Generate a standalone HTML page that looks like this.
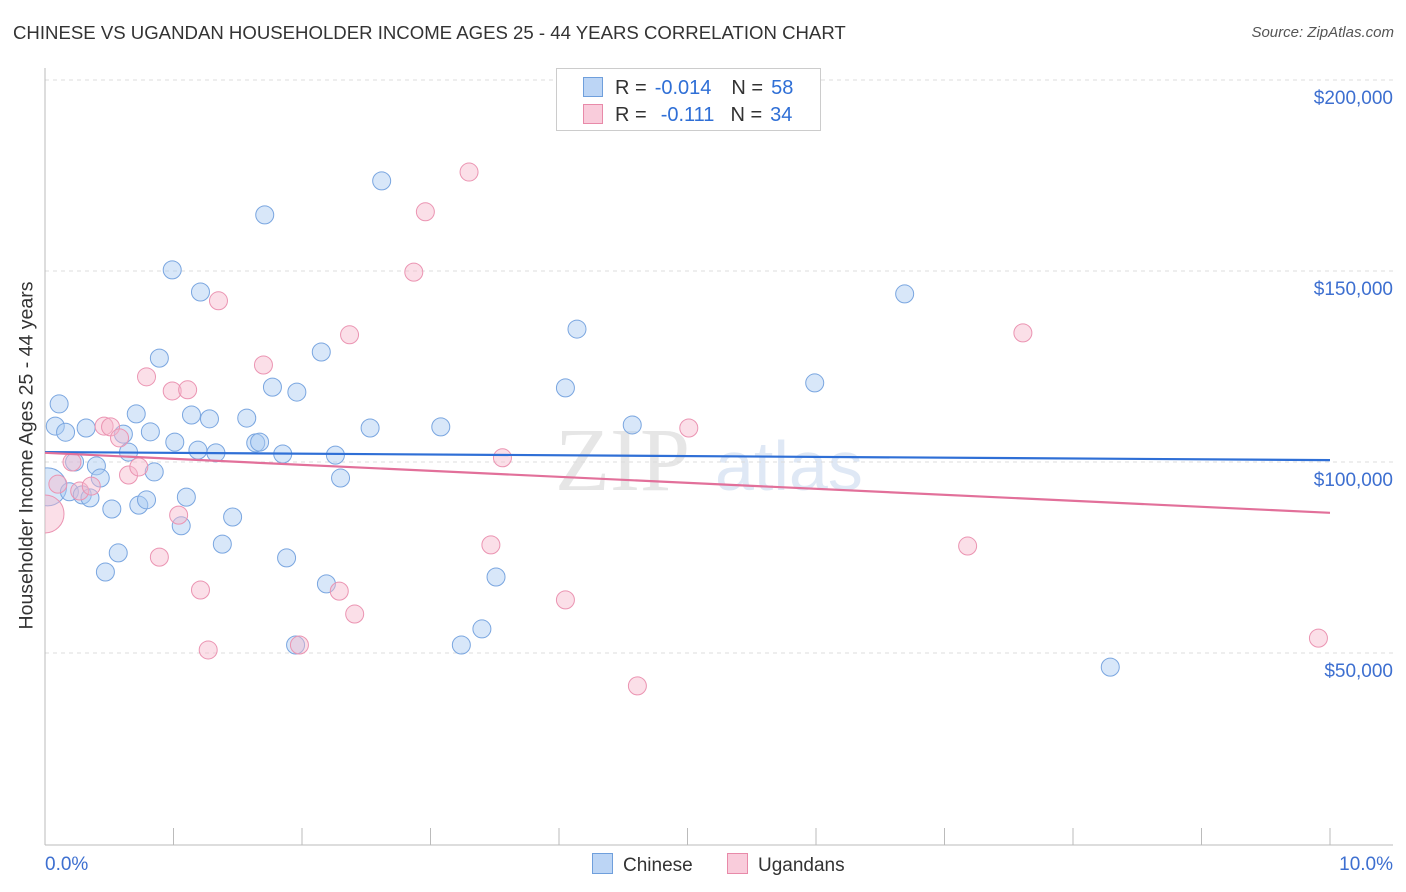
<!DOCTYPE html>
<html><head><meta charset="utf-8"><style>
body{margin:0;background:#fff;font-family:"Liberation Sans",sans-serif;}
#wrap{position:relative;width:1406px;height:892px;overflow:hidden;}
.t{position:absolute;white-space:nowrap;}
</style></head><body>
<div id="wrap">
<div class="t" style="left:13px;top:22px;font-size:18.6px;color:#333;">CHINESE VS UGANDAN HOUSEHOLDER INCOME AGES 25 - 44 YEARS CORRELATION CHART</div>
<div class="t" style="right:12px;top:24px;font-size:15px;color:#555;font-style:italic;">Source: ZipAtlas.com</div>
<div class="t" style="font-size:19.5px;color:#333;transform:rotate(-90deg);text-align:center;top:444px;left:-163px;width:380px;">Householder Income Ages 25 - 44 years</div>
<svg id="svg" width="1406" height="892" style="position:absolute;left:0;top:0"><defs><clipPath id="clip"><rect x="45" y="60" width="1360" height="785"/></clipPath></defs></svg>
</div>
<script>
const yTicks=[50000,100000,150000,200000];
const yTickLabels=["$50,000","$100,000","$150,000","$200,000"];
const xTickLabels=["0.0%","10.0%"];
const chineseX=[.11,.08,.16,.32,.02,.19,.23,.40,.43,.29,.35,.52,.47,.57,.61,.65,.71,.73,.79,.82,.85,.89,.99,1.01,1.06,1.10,1.14,1.19,1.21,1.28,1.33,1.38,1.46,1.57,1.64,1.67,1.71,1.77,1.85,1.88,1.96,1.95,2.15,2.19,2.26,2.30,2.53,2.62,3.08,3.24,3.40,3.51,4.05,4.14,4.57,5.99,6.69,8.29];
const chineseY=[115.2,109.4,107.8,108.9,93.5,92.2,100.0,99.0,95.8,91.4,90.6,87.7,71.2,76.2,107.3,102.6,112.6,88.7,90.1,107.9,97.4,127.2,150.3,105.2,83.3,90.8,112.3,103.1,144.5,111.3,102.4,78.5,85.6,111.5,105.0,105.2,164.7,119.6,102.1,74.9,118.3,52.1,128.8,68.1,101.8,95.8,108.9,173.6,109.2,52.1,56.3,69.9,119.4,134.8,109.7,120.7,144.0,46.3];
const ugandanX=[0.0,.10,.21,.27,.36,.46,.51,.58,.65,.73,.79,.89,.99,1.04,1.11,1.21,1.27,1.35,1.70,1.98,2.29,2.37,2.41,2.87,2.96,3.30,3.47,3.56,4.05,4.61,5.01,7.18,7.61,9.91];
const ugandanY=[86.4,94.2,100.0,92.4,93.7,109.4,109.2,106.3,96.6,98.7,122.3,75.1,118.6,86.1,118.9,66.5,50.8,142.2,125.4,52.1,66.2,133.3,60.2,149.7,165.5,175.9,78.3,101.1,63.9,41.4,108.9,78.0,133.8,53.9];
const chineseTrend=[102.6,100.5];
const ugandanTrend=[102.4,86.7];
const NS="http://www.w3.org/2000/svg";
const svg=document.getElementById('svg');
const sx=v=>45+v*128.5;
const sy=v=>844-v/1000*3.82;
function mk(tag,attrs,parent){const e=document.createElementNS(NS,tag);for(const k in attrs)e.setAttribute(k,attrs[k]);(parent||svg).appendChild(e);return e;}
let wm=mk('text',{x:555,y:490,'font-size':90,fill:'#e6e6e6','font-family':'Liberation Serif, serif'});wm.textContent='ZIP';


let wm2=mk('text',{x:715,y:490,'font-size':70,fill:'#dfe8f5','font-family':'Liberation Sans, sans-serif'});wm2.textContent='atlas';


yTicks.forEach((t,i)=>{
 const g=mk('line',{x1:45,x2:1393,y1:sy(t),y2:sy(t),stroke:'#dcdcdc','stroke-dasharray':'4,4'});
 
 
 const l=mk('text',{x:1393,y:sy(t)+24,'text-anchor':'end','font-size':19,fill:'#3d6fd0'});l.textContent=yTickLabels[i];
 
 
});
let ax=mk('line',{x1:45,x2:1393,y1:845,y2:845,stroke:'#bbb'});


let ay=mk('line',{x1:45,x2:45,y1:68,y2:845,stroke:'#bbb'});


for(let i=1;i<=10;i++){const tk=mk('line',{x1:sx(i),x2:sx(i),y1:828,y2:845,stroke:'#bbb'});
 
 }
[[0,'start'],[10,'end']].forEach((p,i)=>{const l=mk('text',{x:i?1393:45,y:870,'text-anchor':p[1],'font-size':19,fill:'#3d6fd0'});l.textContent=xTickLabels[i];
 
 });
const gp=mk('g',{'clip-path':'url(#clip)'});
function pts(xs,ys,fill,stroke,name){xs.forEach((x,i)=>{const big=x<0.05;
 const c=mk('circle',{cx:sx(x),cy:sy(ys[i]*1000),r:big?19:9,fill:fill,'fill-opacity':0.45,stroke:stroke,'stroke-width':1},gp);
 
 });}
pts(chineseX,chineseY,'#a9c9f1','#7aa6e0','chinese-point');
pts(ugandanX,ugandanY,'#f6b7cb','#eb94b2','ugandan-point');
let t1=mk('line',{x1:sx(0),x2:sx(10),y1:sy(chineseTrend[0]*1000),y2:sy(chineseTrend[1]*1000),stroke:'#2f6fd6','stroke-width':2.2});


let t2=mk('line',{x1:sx(0),x2:sx(10),y1:sy(ugandanTrend[0]*1000),y2:sy(ugandanTrend[1]*1000),stroke:'#e2709a','stroke-width':2.2});


</script>
<div class="t" style="left:556px;top:68px;width:263px;height:61px;border:1px solid #ccc;background:#fff;font-size:20px;">
 <div style="position:absolute;left:26px;top:8px;"><span style="display:inline-block;width:18px;height:18px;background:#bcd5f5;border:1px solid #6f9fdc;vertical-align:-3px;"></span><span style="color:#333;margin-left:12px;">R =</span><span style="color:#2f6fd6;margin-left:8px;">-0.014</span><span style="color:#333;margin-left:20px;">N =</span><span style="color:#2f6fd6;margin-left:8px;">58</span></div>
 <div style="position:absolute;left:26px;top:35px;"><span style="display:inline-block;width:18px;height:18px;background:#f9ccdb;border:1px solid #e88aa9;vertical-align:-3px;"></span><span style="color:#333;margin-left:12px;">R =</span><span style="color:#2f6fd6;margin-left:14px;">-0.111</span><span style="color:#333;margin-left:16px;">N =</span><span style="color:#2f6fd6;margin-left:8px;">34</span></div>
</div>
<div class="t" style="left:592px;top:853px;font-size:19px;color:#333;"><span style="display:inline-block;width:19px;height:19px;background:#bcd5f5;border:1px solid #6f9fdc;vertical-align:-3px;margin-right:10px;"></span>Chinese</div>
<div class="t" style="left:727px;top:853px;font-size:19px;color:#333;"><span style="display:inline-block;width:19px;height:19px;background:#f9ccdb;border:1px solid #e88aa9;vertical-align:-3px;margin-right:10px;"></span>Ugandans</div>
</body></html>
